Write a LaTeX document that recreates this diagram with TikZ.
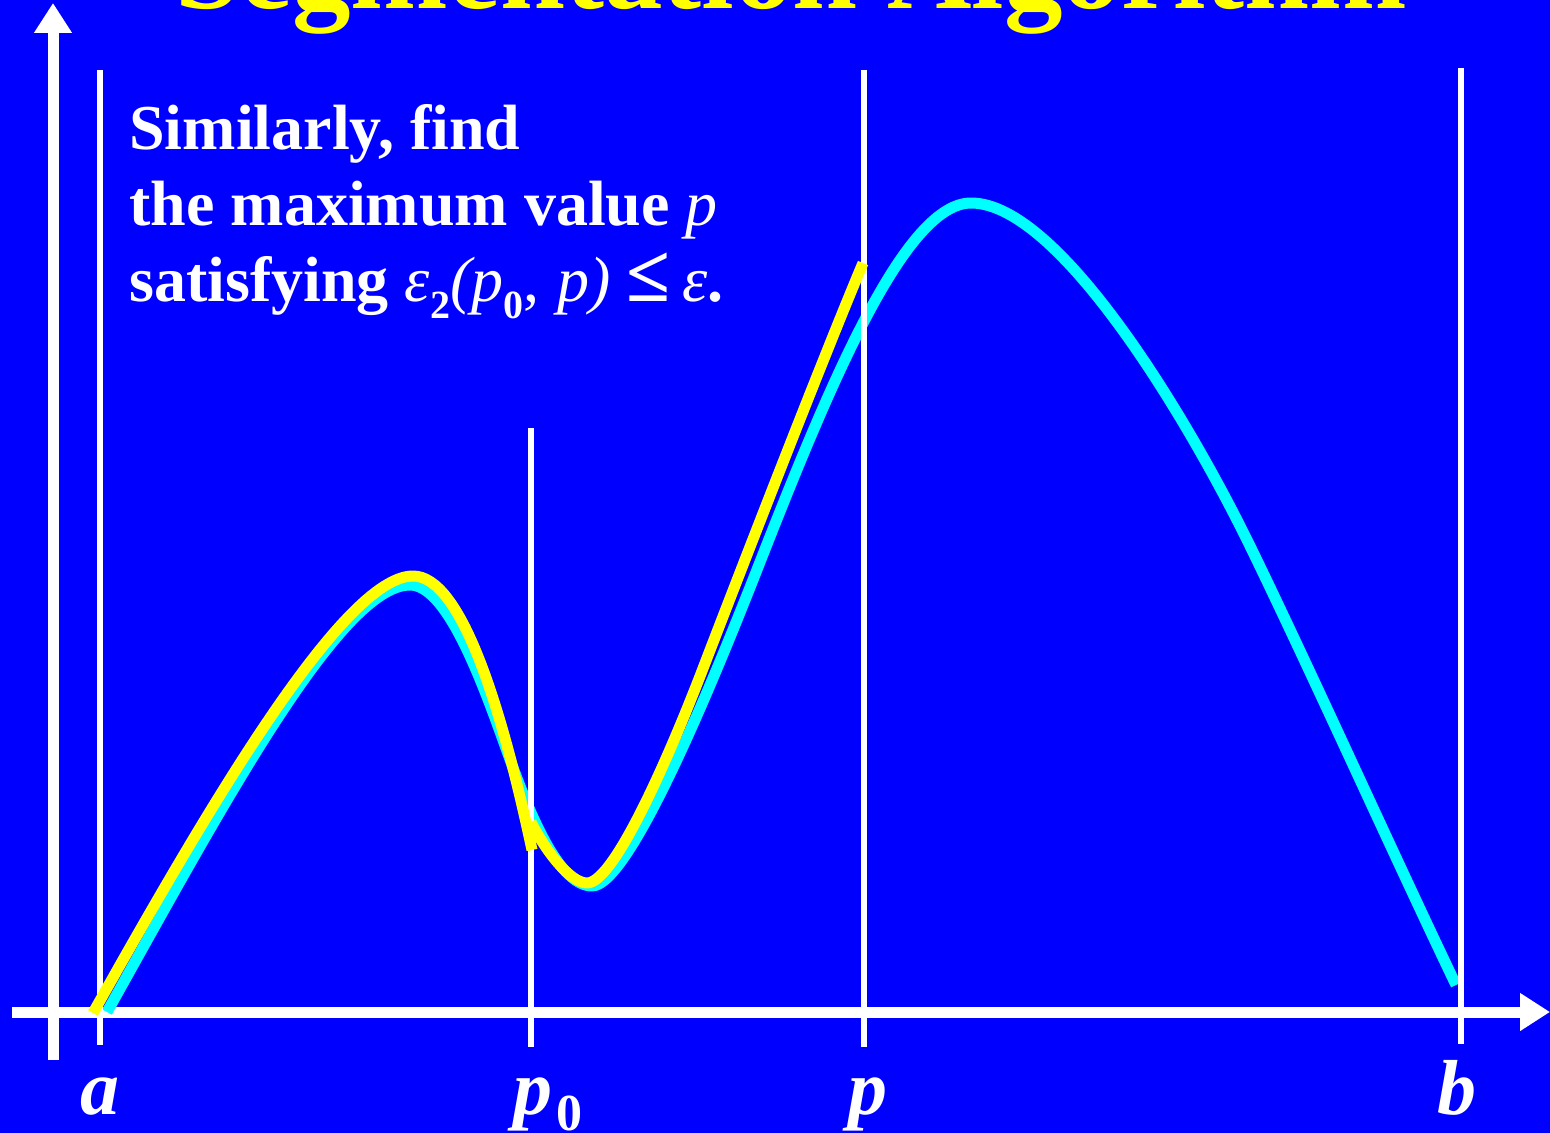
\documentclass[tikz,border=0pt]{standalone}
\usepackage{fontspec}
\setmainfont{Liberation Serif}
\usetikzlibrary{arrows.meta}
\definecolor{bgblue}{RGB}{0,0,255}
\definecolor{cyancurve}{RGB}{0,255,255}
\definecolor{yellowcurve}{RGB}{255,255,0}
\tikzset{
  axisline/.style={white, line width=5.5pt, -{Triangle[length=15pt,width=18pt]}},
  guide/.style={white, line width=3pt},
  cyanline/.style={cyancurve, line width=5.5pt, line join=round},
  yellowline/.style={yellowcurve, line width=5.5pt, line join=round},
  txt/.style={anchor=base west, inner sep=0pt, text=white, font=\bfseries\fontsize{32}{38}\selectfont},
  lab/.style={anchor=base west, inner sep=0pt, text=white, font=\bfseries\itshape\fontsize{39}{40}\selectfont},
  titletxt/.style={anchor=base west, inner sep=0pt, text=yellowcurve, font=\bfseries\fontsize{58.5}{60}\selectfont}
}
\newcommand{\lowsub}[1]{\raisebox{-8.5pt}{\fontsize{20}{20}\selectfont\bfseries\upshape #1}}
\begin{document}
\begin{tikzpicture}[x=0.5pt,y=-0.5pt]
\clip (0,0) rectangle (1550,1133);
\fill[bgblue] (0,0) rectangle (1550,1133);
\useasboundingbox (0,0) rectangle (1550,1133);

% title (cut off at top)
\node[titletxt] (title) at (175,9) {Segmentation Algorithm};

% axes
\coordinate (yb) at (53,1060);
\coordinate (yt) at (53,3);
\coordinate (xl) at (12,1012);
\coordinate (xr) at (1550,1012);
\draw[axisline] (yb) -- (yt);
\draw[axisline] (xl) -- (xr);

% cyan curve
\coordinate (c0) at (107,1012);
\coordinate (c1) at (410,585);
\coordinate (c2) at (503,740);
\coordinate (c3) at (592,886);
\coordinate (c4) at (760,562);
\coordinate (c5) at (971,203);
\coordinate (c6) at (1250,546);
\coordinate (c7) at (1456,985);
\draw[cyanline] (c0) .. controls (220,810) and (340,585) .. (c1)
  .. controls (445,585) and (478,670) .. (c2)
  .. controls (523,796) and (555,886) .. (c3)
  .. controls (630,886) and (715,677) .. (c4)
  .. controls (830,383.5) and (905,203) .. (c5)
  .. controls (1060,203) and (1190,423) .. (c6)
  .. controls (1310,669) and (1396,860) .. (c7);

% guide lines
\coordinate (ga1) at (100,70);   \coordinate (ga2) at (100,1045);
\coordinate (gp01) at (531,428); \coordinate (gp02) at (531,1047);
\coordinate (gp1) at (864,70);   \coordinate (gp2) at (864,1047);
\coordinate (gb1) at (1461,68);  \coordinate (gb2) at (1461,1044);
\draw[guide] (ga1) -- (ga2);
\draw[guide] (gp01) -- (gp02);
\draw[guide] (gp1) -- (gp2);
\draw[guide] (gb1) -- (gb2);

% yellow approximations
\coordinate (y0) at (93,1013);
\coordinate (y1) at (413,576);
\coordinate (y2) at (532,850);
\coordinate (y3) at (531,822);
\coordinate (y4) at (587,883);
\coordinate (y5) at (702,671);
\coordinate (y6) at (863,263);
\draw[yellowline] (y0) .. controls (206,812) and (343,576) .. (y1)
  .. controls (460,576) and (500,700) .. (y2);
\draw[yellowline] (y3) .. controls (545,850) and (570,883) .. (y4)
  .. controls (615,883) and (672,749) .. (y5)
  .. controls (742,567) and (823,358) .. (y6);

% text
\node[txt] (t1) at (129,150) {Similarly, find};
\node[txt] (t2) at (129,226) {the maximum value {\mdseries\itshape p}};
\node[txt] (t3) at (129,302) {satisfying {\mdseries\itshape ε}\lowsub{2}{\mdseries\itshape (p}\lowsub{0}{\mdseries ,\;\itshape p)}\kern 8pt{\fontsize{40}{40}\selectfont ≤}\kern 6pt{\mdseries\itshape ε}.};

% axis labels
\node[lab] (la) at (80,1114) {a};
\node[lab] (lp0) at (513,1114) {p\kern 2pt\raisebox{-8pt}{\fontsize{26}{26}\selectfont\upshape 0}};
\node[lab] (lp) at (848,1114) {p};
\node[lab] (lb) at (1437,1114) {b};
\end{tikzpicture}
\end{document}
